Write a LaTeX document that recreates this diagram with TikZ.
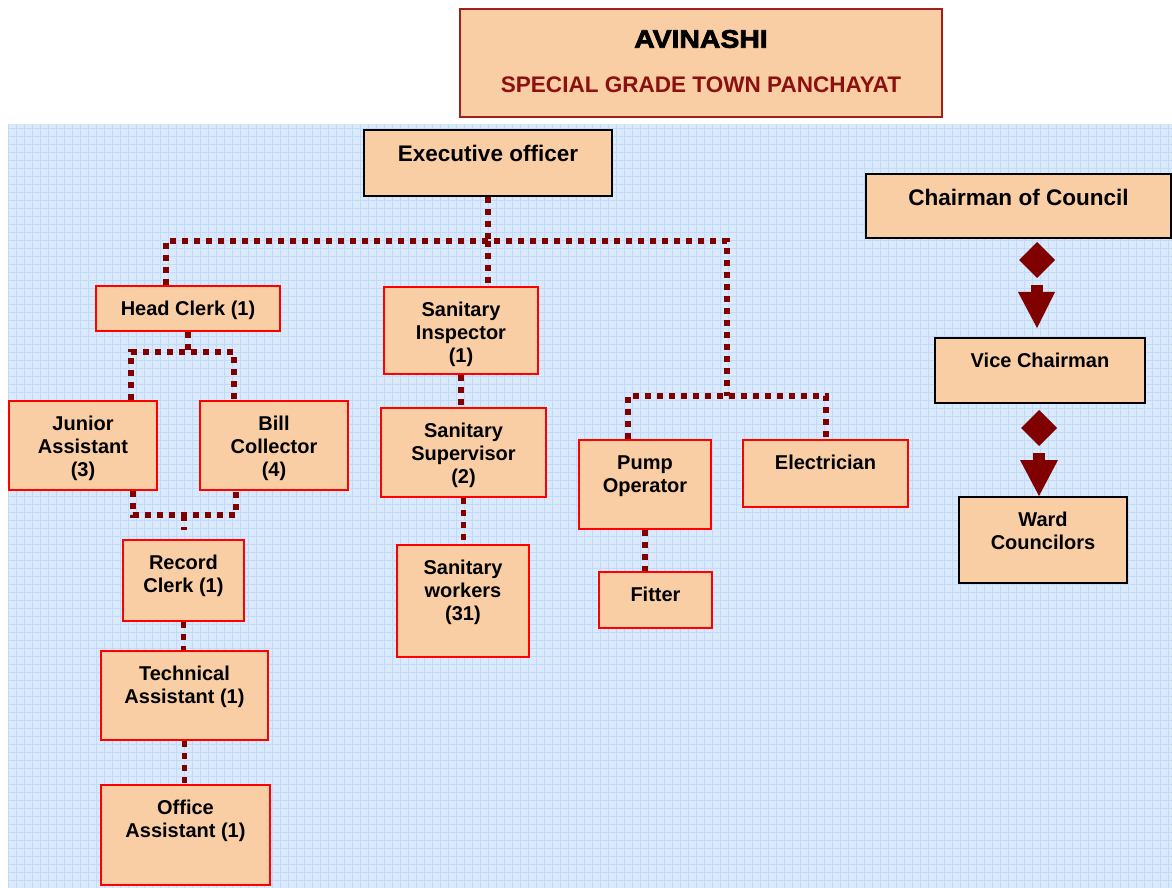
\documentclass[tikz,border=0pt]{standalone}
\usepackage{fontspec}
\setmainfont{Liberation Sans}
\newfontfamily\blackfont[FakeBold=3,FakeStretch=1.12]{Liberation Sans Bold}
\definecolor{bgblue}{RGB}{218,234,252}
\definecolor{gridblue}{RGB}{192,218,248}
\definecolor{peach}{RGB}{250,206,164}
\definecolor{dred}{RGB}{128,0,0}
\definecolor{tred}{RGB}{140,16,16}
\definecolor{tborder}{RGB}{160,32,30}
\tikzset{
  ob/.style={draw=red, line width=1.5pt, fill=peach, inner sep=0pt},
  bb/.style={draw=black, line width=1.5pt, fill=peach, inner sep=0pt},
  lbl/.style={align=center, inner sep=0pt, font=\fontsize{15}{17.25}\selectfont\bfseries},
  hlbl/.style={align=center, inner sep=0pt, font=\fontsize{16.9}{19}\selectfont\bfseries},
  dotc/.style={draw=dred, line width=4.2pt, dash pattern=on 4.2pt off 4.8pt},
}
\newcommand\obox[8]{%
  \node[#6, minimum width={(#4-#2)*0.75pt}, minimum height={(#5-#3)*0.75pt}] (#1) at ({(#2+#4)/2},{(#3+#5)/2}) {};
  \node[#8, anchor=north] (#1t) at ([yshift=-12pt]#1.north) {#7};}
\begin{document}
\begin{tikzpicture}[x=0.75pt,y=-0.75pt]
\useasboundingbox (0,0) rectangle (1172,888);
\fill[white] (0,0) rectangle (1172,888);
\fill[bgblue] (8,124) rectangle (1172,888);
\draw[gridblue, line width=0.35pt] (8,124) grid[step=6pt] (1172,888);
% title
\node[draw=tborder, line width=1.5pt, fill=peach, minimum width={482*0.75pt}, minimum height={108*0.75pt}] (title) at (701,63) {};
\node[inner sep=0pt, font=\fontsize{19}{22}\selectfont\blackfont] (t1) at (701,39) {AVINASHI};
\node[inner sep=0pt, text=tred, font=\fontsize{16.9}{20}\selectfont\bfseries] (t2) at (701,85) {SPECIAL GRADE TOWN PANCHAYAT};
% boxes
\obox{ex}{364}{130}{612}{196}{bb}{Executive officer}{hlbl}
\obox{ch}{866}{174}{1171}{238}{bb}{Chairman of Council}{hlbl}
\obox{vc}{935}{338}{1145}{403}{bb}{Vice Chairman}{lbl}
\obox{wc}{959}{497}{1127}{583}{bb}{Ward\\Councilors}{lbl}
\obox{hc}{96}{286}{280}{331}{ob}{Head Clerk (1)}{lbl}
\obox{si}{384}{287}{538}{374}{ob}{Sanitary\\Inspector\\(1)}{lbl}
\obox{ja}{9}{401}{157}{490}{ob}{Junior\\Assistant\\(3)}{lbl}
\obox{bc}{200}{401}{348}{490}{ob}{Bill\\Collector\\(4)}{lbl}
\obox{ss}{381}{408}{546}{497}{ob}{Sanitary\\Supervisor\\(2)}{lbl}
\obox{po}{579}{440}{711}{529}{ob}{Pump\\Operator}{lbl}
\obox{el}{743}{440}{908}{507}{ob}{Electrician}{lbl}
\obox{rc}{123}{540}{244}{621}{ob}{Record\\Clerk (1)}{lbl}
\obox{sw}{397}{545}{529}{657}{ob}{Sanitary\\workers\\(31)}{lbl}
\obox{fi}{599}{572}{712}{628}{ob}{Fitter}{lbl}
\obox{ta}{101}{651}{268}{740}{ob}{Technical\\Assistant (1)}{lbl}
\obox{oa}{101}{785}{270}{885}{ob}{Office\\Assistant (1)}{lbl}
% connectors
\coordinate (b1) at (166,241);
\coordinate (b2) at (727,241);
\coordinate (b3) at (727,396);
\coordinate (pb) at (628,396);
\coordinate (eb) at (826,396);
\coordinate (hj) at (131,352);
\coordinate (hb) at (234,352);
\coordinate (jl) at (133,515);
\coordinate (jr) at (236,515);
\coordinate (rm) at (184,515);
\coordinate (rend) at (184,530);
\draw[dotc] (ex.south) -- (ex.south |- b1);
\draw[dotc] (b1 |- hc.north) -- (b1) -- (b2) -- (b3);
\draw[dotc] (ex.south |- b1) -- (ex.south |- si.north);
\draw[dotc] (pb |- po.north) -- (pb) -- (eb) -- (eb |- el.north);
\draw[dotc] (hc.south) -- (hc.south |- hj);
\draw[dotc] (hj |- ja.north) -- (hj) -- (hb) -- (hb |- bc.north);
\draw[dotc] (jl |- ja.south) -- (jl) -- (jr) -- (jr |- bc.south);
\draw[dotc] (rm) -- (rend);
\draw[dotc] (rc.south) -- (rc.south |- ta.north);
\draw[dotc] (ta.south) -- (ta.south |- oa.north);
\draw[dotc] (si.south) -- (si.south |- ss.north);
\draw[dotc] (ss.south) -- (ss.south |- sw.north);
\draw[dotc] (po.south) -- (po.south |- fi.north);
% council arrows
\fill[dred] (1037,242) -- (1055,260) -- (1037,278) -- (1019,260) -- cycle;
\fill[dred] (1031,285) rectangle (1043,293);
\fill[dred] (1018,292) -- (1055,292) -- (1037,328) -- cycle;
\fill[dred] (1039,410) -- (1057,428) -- (1039,446) -- (1021,428) -- cycle;
\fill[dred] (1033,453) rectangle (1045,461);
\fill[dred] (1020,460) -- (1058,460) -- (1039,496) -- cycle;
\end{tikzpicture}
\end{document}
